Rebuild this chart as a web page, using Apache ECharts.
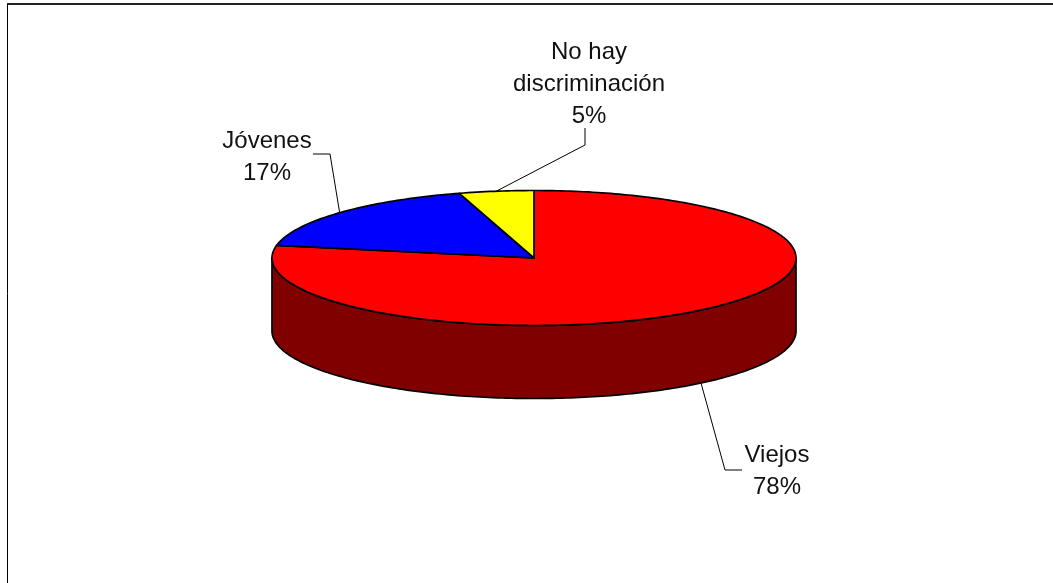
<!DOCTYPE html>
<html>
<head>
<meta charset="utf-8">
<style>html,body{margin:0;padding:0;background:#fff}#c{width:1053px;height:583px}</style>
<script src="https://cdn.jsdelivr.net/npm/echarts@6/dist/echarts.min.js"></script>
</head>
<body>
<div id="c"></div>
<script>
const categories = ['Viejos', 'Jóvenes', 'No hay\ndiscriminación'];
const values = [78, 17.4, 4.6];
const colors = ['#ff0000', '#0000ff', '#ffff00'];
const sideColors = ['#800000', '#000080', '#808000'];

// layout of the tilted disc and its callouts
const disc = { cx: 534, cy: 258, rx: 262, ry: 67.5, depth: 73 };
const callouts = [
  { textX: 777, textY: 439, elbow: [[725, 470], [742, 470]], onBase: true },
  { textX: 267, textY: 125, elbow: [[330, 154], [313, 154]], onBase: false },
  { textX: 589, textY: 36, elbow: [[585, 145], [585, 128]], onBase: false }
];

const total = values.reduce((a, b) => a + b, 0);
function pt(turn, dy) {
  const t = turn * 2 * Math.PI;
  return [disc.cx + disc.rx * Math.sin(t), disc.cy - disc.ry * Math.cos(t) + (dy || 0)];
}
function arc(a, b, dy) {
  const out = [];
  const n = Math.max(2, Math.ceil((b - a) * 360));
  for (let i = 0; i <= n; i++) out.push(pt(a + (b - a) * i / n, dy));
  return out;
}
const starts = [];
values.reduce((acc, v, i) => { starts[i] = acc; return acc + v; }, 0);

function renderItem(params, api) {
  const i = params.dataIndex;
  const v = api.value(0);
  const a = starts[i] / total, b = a + v / total;
  const children = [];
  // visible wall: only the front half of the rim (a quarter to three quarters of a turn)
  const fa = Math.max(a, 0.25), fb = Math.min(b, 0.75);
  if (fb > fa) {
    children.push({
      type: 'polygon',
      shape: { points: arc(fa, fb, 0).concat(arc(fa, fb, disc.depth).reverse()) },
      style: { fill: sideColors[i], stroke: '#000', lineWidth: 1.7, lineJoin: 'round' }
    });
  }
  children.push({
    type: 'polygon',
    shape: { points: [[disc.cx, disc.cy]].concat(arc(a, b, 0)) },
    style: { fill: colors[i], stroke: '#000', lineWidth: 1.7, lineJoin: 'round' }
  });
  const c = callouts[i];
  children.push({
    type: 'polyline',
    shape: { points: [pt((a + b) / 2, c.onBase ? disc.depth : 0)].concat(c.elbow) },
    style: { fill: null, stroke: '#000', lineWidth: 1 }
  });
  children.push({
    type: 'text',
    style: {
      x: c.textX, y: c.textY,
      text: categories[i] + '\n' + Math.round(v) + '%',
      fill: '#111', align: 'center', verticalAlign: 'top',
      font: '24px "Liberation Sans", Arial, sans-serif', lineHeight: 32
    }
  });
  return { type: 'group', children };
}

const chart = echarts.init(document.getElementById('c'), null, { renderer: 'canvas' });
chart.setOption({
  animation: false,
  backgroundColor: '#ffffff',
  graphic: [
    { type: 'line', z: 10, shape: { x1: 7, y1: 4, x2: 1053, y2: 4 }, style: { stroke: '#222', lineWidth: 2 } },
    { type: 'line', z: 10, shape: { x1: 7.5, y1: 4, x2: 7.5, y2: 583 }, style: { stroke: '#000', lineWidth: 1 } }
  ],
  series: [{
    type: 'custom',
    coordinateSystem: 'none',
    renderItem,
    data: values.map((v, i) => ({ name: categories[i], value: [v] }))
  }]
});
</script>
</body>
</html>
